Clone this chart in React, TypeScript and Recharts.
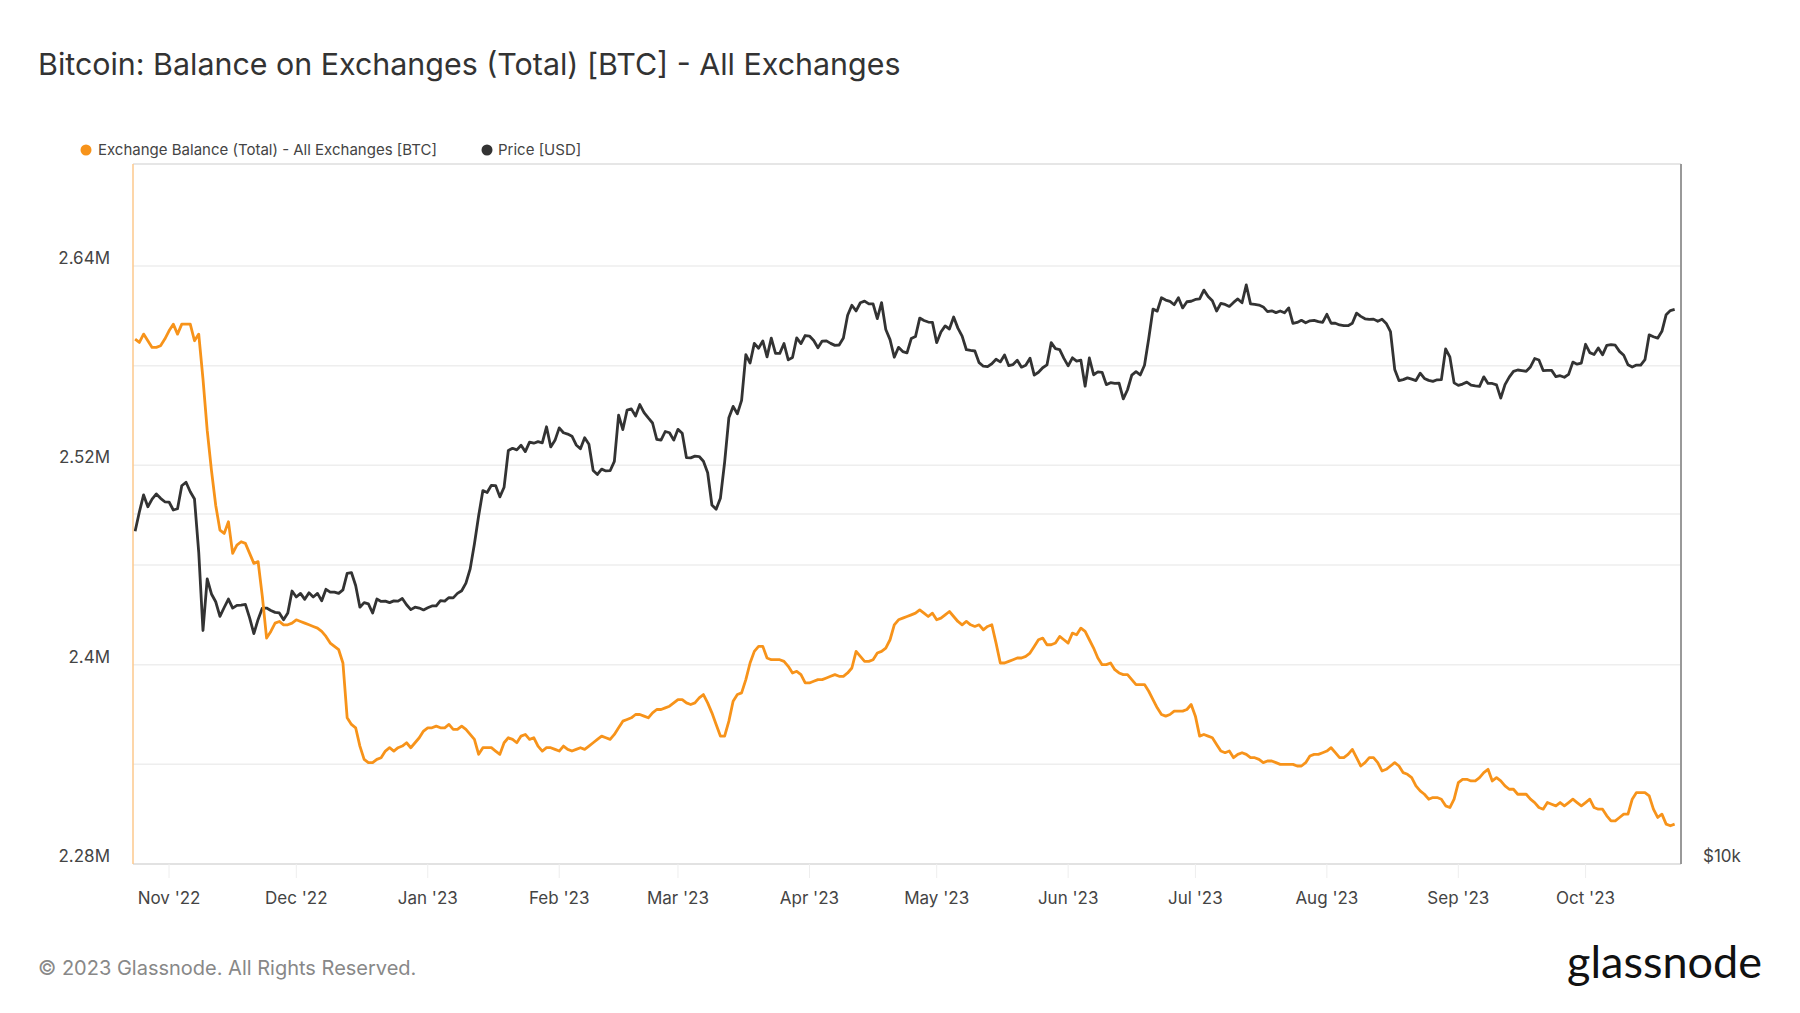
import { LineChart, Line, XAxis, YAxis, CartesianGrid, ReferenceLine } from 'recharts';

// daily series, first point = START_DATE
const START_DATE = '2022-10-24';

const MONTH_STARTS = [
  '2022-11-01', '2022-12-01', '2023-01-01', '2023-02-01', '2023-03-01', '2023-04-01',
  '2023-05-01', '2023-06-01', '2023-07-01', '2023-08-01', '2023-09-01', '2023-10-01',
];
const MONTH_LABELS = [
  "Nov '22", "Dec '22", "Jan '23", "Feb '23", "Mar '23", "Apr '23",
  "May '23", "Jun '23", "Jul '23", "Aug '23", "Sep '23", "Oct '23",
];

const BALANCE_TICKS = [2280000, 2340000, 2400000, 2460000, 2520000, 2580000, 2640000];
const BALANCE_LABELS = ['2.28M', '', '2.4M', '', '2.52M', '', '2.64M'];
const BALANCE_DOMAIN = [2280000, 2701400];

const PRICE_TICKS = [10000];
const PRICE_LABELS = ['$10k'];
const PRICE_GRID = 20000;
const PRICE_DOMAIN = [10000, 40000];

// exchange balance, thousands of BTC
const BALANCE_KBTC = [
  2596, 2594, 2599, 2595, 2591, 2591, 2592, 2596, 2601, 2605,
  2599, 2605, 2605, 2605, 2595, 2599, 2572, 2541, 2517, 2496,
  2481, 2479, 2486, 2467, 2472, 2474, 2473, 2467, 2461, 2462,
  2441, 2416, 2420, 2425, 2426, 2424, 2424, 2425, 2427, 2426,
  2425, 2424, 2423, 2422, 2420, 2417, 2413, 2411, 2409, 2401,
  2368, 2364, 2362, 2351, 2343, 2341, 2341, 2343, 2344, 2348,
  2350, 2348, 2350, 2351, 2353, 2350, 2353, 2356, 2360, 2362,
  2362, 2363, 2362, 2362, 2364, 2361, 2361, 2363, 2361, 2358,
  2355, 2346, 2350, 2350, 2350, 2348, 2346, 2353, 2356, 2355,
  2353, 2357, 2358, 2355, 2356, 2351, 2348, 2350, 2350, 2349,
  2348, 2351, 2349, 2348, 2349, 2350, 2349, 2351, 2353, 2355,
  2357, 2356, 2355, 2358, 2362, 2366, 2367, 2368, 2370, 2370,
  2369, 2368, 2371, 2373, 2373, 2374, 2375, 2377, 2379, 2379,
  2377, 2376, 2377, 2380, 2382, 2377, 2371, 2364, 2357, 2357,
  2366, 2378, 2382, 2383, 2391, 2401, 2408, 2411, 2411, 2404,
  2403, 2403, 2403, 2402, 2399, 2395, 2396, 2394, 2389, 2389,
  2390, 2391, 2391, 2392, 2393, 2394, 2393, 2393, 2395, 2398,
  2408, 2405, 2402, 2402, 2403, 2407, 2408, 2410, 2415, 2424,
  2427, 2428, 2429, 2430, 2431, 2433, 2431, 2429, 2431, 2427,
  2428, 2430, 2432, 2429, 2426, 2424, 2426, 2424, 2423, 2424,
  2421, 2423, 2424, 2413, 2401, 2401, 2402, 2403, 2404, 2404,
  2405, 2407, 2411, 2415, 2416, 2412, 2412, 2413, 2417, 2415,
  2413, 2419, 2418, 2422, 2420, 2415, 2410, 2404, 2400, 2400,
  2401, 2397, 2395, 2394, 2394, 2391, 2388, 2388, 2388, 2384,
  2379, 2374, 2370, 2369, 2370, 2372, 2372, 2372, 2373, 2376,
  2369, 2357, 2358, 2357, 2356, 2352, 2348, 2347, 2348, 2344,
  2346, 2347, 2346, 2344, 2344, 2343, 2341, 2342, 2342, 2341,
  2340, 2340, 2340, 2340, 2339, 2339, 2341, 2345, 2346, 2346,
  2347, 2348, 2350, 2347, 2344, 2344, 2346, 2349, 2344, 2339,
  2341, 2344, 2344, 2341, 2336, 2337, 2339, 2341, 2339, 2335,
  2334, 2332, 2327, 2324, 2322, 2319, 2320, 2320, 2319, 2315,
  2314, 2319, 2329, 2331, 2331, 2330, 2330, 2332, 2335, 2337,
  2330, 2332, 2330, 2327, 2325, 2325, 2322, 2322, 2322, 2319,
  2317, 2314, 2313, 2317, 2316, 2315, 2317, 2315, 2317, 2319,
  2317, 2315, 2317, 2319, 2314, 2313, 2313, 2309, 2306, 2306,
  2308, 2310, 2310, 2319, 2323, 2323, 2323, 2321, 2313, 2308,
  2310, 2304, 2303, 2304,
];

// BTC price, USD
const PRICE_USD = [
  // Oct 24-31 '22
  19330, 20080, 20770, 20290, 20600, 20810, 20630, 20490,
  // Nov
  20480, 20160, 20210, 21150, 21300, 20900, 20600, 18540, 15880, 17590,
  17070, 16810, 16330, 16620, 16900, 16600, 16690, 16700, 16720, 16280,
  15780, 16230, 16600, 16600, 16520, 16460, 16440, 16220, 16440, 17170,
  // Dec
  16970, 17090, 16890, 17110, 16970, 17090, 16840, 17230, 17130, 17130,
  17090, 17210, 17780, 17810, 17360, 16630, 16780, 16740, 16440, 16900,
  16820, 16830, 16780, 16840, 16830, 16920, 16710, 16550, 16630, 16600, 16540,
  // Jan '23
  16610, 16670, 16670, 16850, 16830, 16950, 16940, 17090, 17180, 17440,
  17940, 18850, 19930, 20950, 20870, 21170, 21160, 20690, 21090, 22680,
  22780, 22710, 22920, 22630, 23060, 23010, 23080, 23030, 23770, 22840, 23140,
  // Feb
  23720, 23490, 23430, 23330, 22930, 22760, 23260, 22960, 21800, 21630,
  21860, 21780, 21790, 22200, 24330, 23640, 24570, 24630, 24280, 24840,
  24450, 24190, 23950, 23190, 23150, 23550, 23490, 23150,
  // Mar
  23650, 23470, 22360, 22350, 22430, 22410, 22200, 21700, 20360, 20190,
  20630, 22160, 24200, 24750, 24390, 25050, 27420, 26970, 28040, 27770,
  28180, 27300, 28330, 27490, 27490, 28030, 27140, 27270, 28350, 28030, 28480,
  // Apr
  28450, 28200, 27800, 28170, 28180, 28040, 27930, 27950, 28340, 29650,
  30240, 29900, 30390, 30490, 30320, 30320, 29450, 30400, 28820, 28250,
  27280, 27820, 27590, 27520, 28310, 28420, 29480, 29340, 29250, 29230,
  // May
  28080, 28680, 29030, 28850, 29540, 28900, 28450, 27690, 27650, 27620,
  26990, 26800, 26780, 26930, 27170, 27030, 27400, 26830, 26890, 27120,
  26750, 26850, 27230, 26330, 26480, 26720, 26870, 28080, 27750, 27700, 27220,
  // Jun
  26820, 27250, 27070, 27120, 25760, 27240, 26350, 26500, 26480, 25840,
  25940, 25900, 25920, 25120, 25580, 26330, 26510, 26340, 26850, 28310,
  30010, 29890, 30690, 30550, 30470, 30270, 30690, 30080, 30450, 30480,
  // Jul
  30590, 30620, 31160, 30770, 30510, 29900, 30350, 30290, 30170, 30410,
  30620, 30390, 31480, 30320, 30290, 30250, 30140, 29860, 29910, 29800,
  29900, 29790, 30080, 29180, 29230, 29350, 29210, 29320, 29350, 29280, 29230,
  // Aug
  29700, 29180, 29180, 29080, 29040, 29040, 29180, 29770, 29580, 29440,
  29400, 29420, 29290, 29410, 29170, 28700, 26630, 26050, 26100, 26190,
  26120, 26050, 26430, 26160, 26060, 26010, 26090, 26100, 27730, 27300, 25930,
  // Sep
  25800, 25870, 25970, 25820, 25780, 25750, 26240, 25900, 25900, 25830,
  25160, 25840, 26230, 26530, 26600, 26570, 26530, 26760, 27210, 27130,
  26570, 26580, 26580, 26250, 26300, 26220, 26370, 27020, 26910, 26970,
  // Oct 1-22
  27990, 27530, 27430, 27790, 27410, 27930, 27970, 27940, 27600, 27390,
  26880, 26760, 26860, 26860, 27150, 28520, 28410, 28330, 28720, 29680,
  29920, 29990,
];

const ORANGE = '#f7931a';
const DARK = '#333333';
const FONT = 'Inter, "Noto Sans", sans-serif';

const dayOf = (s: string) => Math.round((Date.parse(s) - Date.parse(START_DATE)) / 86400000);
const monthDays = MONTH_STARTS.map(dayOf);

const data = PRICE_USD.map((price, i) => ({
  day: i,
  price,
  balance: BALANCE_KBTC[i] * 1000,
}));

const LeftTick = ({ x, y, payload }: any) => {
  const label = BALANCE_LABELS[BALANCE_TICKS.indexOf(payload.value)];
  if (!label) return <g />;
  return (
    <text x={x} y={y - 8} textAnchor="end" dominantBaseline="central" fill="#444" fontSize={17} fontFamily={FONT}>
      {label}
    </text>
  );
};

const RightTick = ({ x, y, payload }: any) => {
  const label = PRICE_LABELS[PRICE_TICKS.indexOf(payload.value)];
  if (!label) return <g />;
  return (
    <text x={x} y={y - 8} textAnchor="start" dominantBaseline="central" fill="#444" fontSize={17} fontFamily={FONT}>
      {label}
    </text>
  );
};

const MonthTick = ({ x, y, payload }: any) => (
  <text x={x} y={y} textAnchor="middle" dominantBaseline="central" fill="#444" fontSize={17} fontFamily={FONT}>
    {MONTH_LABELS[monthDays.indexOf(payload.value)]}
  </text>
);

export default function App() {
  return (
    <div style={{ position: 'absolute', left: 0, top: 0, width: 1800, height: 1013, background: '#fff' }}>
      <LineChart
        width={1800}
        height={1013}
        data={data}
        margin={{ top: 164, right: 39, bottom: 99, left: 33 }}
      >
        <CartesianGrid yAxisId="left" vertical={false} stroke="#eeeeee" strokeWidth={1.5} />
        <XAxis
          dataKey="day"
          type="number"
          domain={[-0.5, 364.5]}
          allowDataOverflow
          ticks={monthDays}
          tick={<MonthTick />}
          tickSize={14}
          tickMargin={20}
          tickLine={{ stroke: '#eeeeee' }}
          axisLine={{ stroke: '#dddddd', strokeWidth: 1.5 }}
          height={50}
        />
        <YAxis
          yAxisId="left"
          orientation="left"
          domain={BALANCE_DOMAIN}
          allowDataOverflow
          ticks={BALANCE_TICKS}
          tick={<LeftTick />}
          tickSize={0}
          tickMargin={23}
          axisLine={{ stroke: '#fcc88c', strokeWidth: 1.5 }}
          width={100}
        />
        <YAxis
          yAxisId="right"
          orientation="right"
          scale="log"
          domain={PRICE_DOMAIN}
          allowDataOverflow
          ticks={PRICE_TICKS}
          tick={<RightTick />}
          tickSize={0}
          tickMargin={22}
          axisLine={{ stroke: '#999999', strokeWidth: 2 }}
          width={80}
        />
        <ReferenceLine yAxisId="right" y={PRICE_GRID} stroke="#eeeeee" strokeWidth={1.5} />
        <ReferenceLine yAxisId="left" y={BALANCE_DOMAIN[1]} stroke="#e6e6e6" strokeWidth={2} />
        <Line
          yAxisId="right"
          dataKey="price"
          type="linear"
          stroke={DARK}
          strokeWidth={2.8}
          dot={false}
          strokeLinejoin="round"
          isAnimationActive={false}
        />
        <Line
          yAxisId="left"
          dataKey="balance"
          type="linear"
          stroke={ORANGE}
          strokeWidth={2.8}
          dot={false}
          strokeLinejoin="round"
          isAnimationActive={false}
        />
      </LineChart>
      <svg
        width={1800}
        height={1013}
        style={{ position: 'absolute', left: 0, top: 0, pointerEvents: 'none' }}
        fontFamily={FONT}
      >
        <text x={38} y={75} fontSize={30.4} fontWeight={400} fill="#333">
          Bitcoin: Balance on Exchanges (Total) [BTC] - All Exchanges
        </text>
        <circle cx={86} cy={150} r={5.5} fill={ORANGE} />
        <text x={98} y={155} fontSize={15} fill="#444">
          Exchange Balance (Total) - All Exchanges [BTC]
        </text>
        <circle cx={487} cy={150} r={5.5} fill={DARK} />
        <text x={498} y={155} fontSize={15} fill="#444">
          Price [USD]
        </text>
        <text x={38} y={975} fontSize={20} fill="#888">
          © 2023 Glassnode. All Rights Reserved.
        </text>
        <text x={1762} y={978} textAnchor="end" fontSize={45} fontFamily="Lato, sans-serif" fill="#111">
          glassnode
        </text>
      </svg>
    </div>
  );
}
